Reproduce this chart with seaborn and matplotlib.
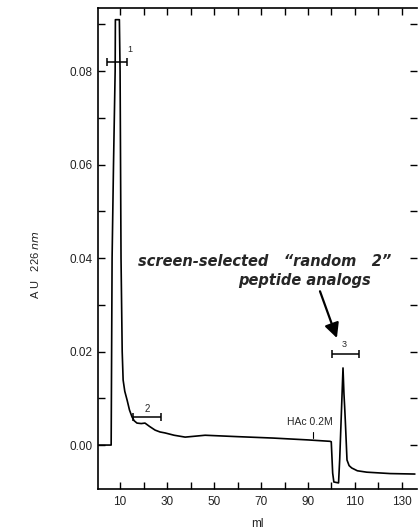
import numpy as np
import pandas as pd
import matplotlib
matplotlib.use("Agg")
import matplotlib.pyplot as plt
import seaborn as sns

# ---- data ----
elution_ml = [0.6, 6.2, 6.6, 7.2, 7.9, 8.0, 9.7, 10.0, 10.2, 10.4, 10.9, 11.3,
              12.0, 13.0, 14.0, 15.1, 16.0, 17.2, 19.0, 20.6, 22.5, 24.9, 27.0,
              29.1, 33.0, 37.7, 42.0, 46.2, 60.0, 75.0, 90.0, 99.4, 99.9, 100.5,
              101.0, 103.0, 103.5, 104.9, 105.3, 105.6, 105.9, 106.6, 107.5,
              108.6, 111.0, 115.0, 125.0, 135.5]
absorbance = [0.0, 0.0, 0.04, 0.06, 0.08, 0.091, 0.091, 0.08, 0.06, 0.04, 0.02,
              0.0139, 0.0115, 0.0096, 0.0075, 0.0060, 0.0052, 0.0047, 0.0046,
              0.0047, 0.0040, 0.0032, 0.0028, 0.0026, 0.0021, 0.0017, 0.0019,
              0.0021, 0.0018, 0.0015, 0.0011, 0.0008, 0.0007, -0.0060, -0.0079,
              -0.0081, -0.0030, 0.0165, 0.0110, 0.0082, 0.0050, -0.0032, -0.0044,
              -0.0049, -0.0055, -0.0058, -0.0061, -0.0062]

fraction_labels = ["1", "2", "3"]
fraction_start = [4.5, 15.5, 100.2]
fraction_end = [13.0, 27.4, 111.7]
fraction_level = [0.0819, 0.0060, 0.0195]

x_tick_values = [10, 30, 50, 70, 90, 110, 130]
y_tick_values = [0.00, 0.02, 0.04, 0.06, 0.08]
y_tick_labels = ["0.00", "0.02", "0.04", "0.06", "0.08"]

df = pd.DataFrame({"ml": elution_ml, "AU": absorbance})

sns.set_theme(style="ticks")
plt.rcParams["font.family"] = ["Liberation Sans", "DejaVu Sans"]

fig = plt.figure(figsize=(4.18, 5.29), dpi=100)
ax = fig.add_axes([98 / 418, 1 - 489 / 529, (417 - 98) / 418, (489 - 8) / 529])

sns.lineplot(data=df, x="ml", y="AU", sort=False, estimator=None,
             color="black", linewidth=1.2, ax=ax)

ax.set_xlim(0.6, 136.4)
ax.set_ylim(-0.0094, 0.0935)

ax.set_xticks(x_tick_values)
ax.set_xticks(np.arange(10, 136, 10), minor=True)
ax.set_yticks(y_tick_values)
ax.set_yticklabels(y_tick_labels)
ax.set_yticks(np.arange(0.0, 0.095, 0.01), minor=True)

ax.tick_params(axis="both", which="both", direction="in", color="black",
               labelsize=8.5, labelcolor="#222222", width=1.0)
ax.tick_params(axis="both", which="major", length=5)
ax.tick_params(axis="both", which="minor", length=5)
ax.tick_params(axis="x", which="both", top=True, pad=5)
ax.tick_params(axis="y", which="both", right=True, pad=4)

for side in ["left", "bottom", "top"]:
    ax.spines[side].set_visible(True)
    ax.spines[side].set_color("black")
    ax.spines[side].set_linewidth(1.2)
ax.spines["right"].set_visible(False)

ax.set_xlabel("ml", fontsize=8.5, labelpad=7, color="#222222")
ax.set_ylabel("")
fig.text(35 / 418, 1 - 265 / 529, "A U   226 $\\it{nm}$", rotation=90,
         ha="center", va="center", fontsize=8, color="#222222")

# fraction bars
for lab, x0, x1, yv in zip(fraction_labels, fraction_start, fraction_end, fraction_level):
    ax.errorbar([(x0 + x1) / 2], [yv], xerr=[[(x1 - x0) / 2], [(x1 - x0) / 2]],
                fmt="none", ecolor="black", elinewidth=1.1, capsize=3, capthick=1.1)
ax.text(13.0, 0.0847, "1", fontsize=6.5, ha="left", va="center")
ax.text(21.5, 0.0078, "2", fontsize=7, ha="center", va="center")
ax.text(105.3, 0.0215, "3", fontsize=6.5, ha="center", va="center")

# HAc marker
ax.text(90.9, 0.0050, "HAc 0.2M", fontsize=7.5, ha="center", va="center")
ax.plot([92.1, 92.1], [0.0028, 0.0015], color="black", lw=0.8)

# annotation
ax.text(71.7, 0.0392, "screen-selected   \u201crandom   2\u201d", fontsize=10.5,
        fontweight="bold", fontstyle="italic", family="DejaVu Sans",
        ha="center", va="center")
ax.text(88.5, 0.0353, "peptide analogs", fontsize=10.5,
        fontweight="bold", fontstyle="italic", family="DejaVu Sans",
        ha="center", va="center")
ax.annotate("", xy=(102.3, 0.0229), xytext=(95.1, 0.0329),
            arrowprops=dict(arrowstyle="-|>", color="black", lw=1.6,
                            mutation_scale=22, shrinkA=0, shrinkB=0))

fig.savefig("out.png", dpi=100)
